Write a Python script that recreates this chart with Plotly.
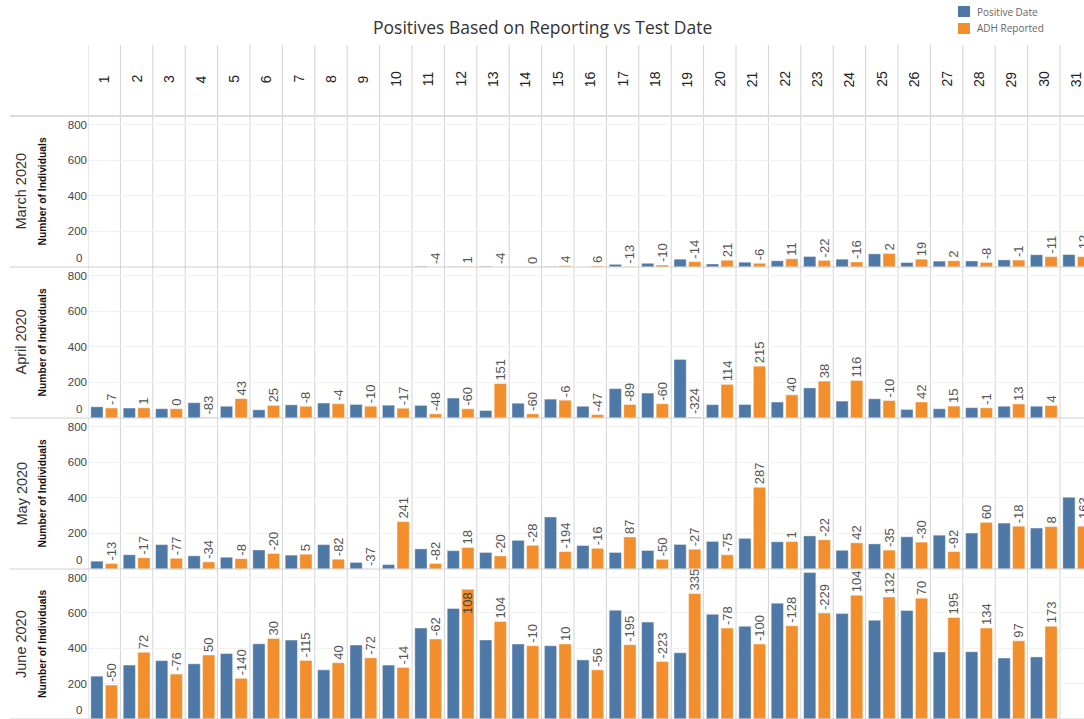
import plotly.graph_objects as go

# ---------------- data ----------------
days = list(range(1, 32))
month_names = ["March 2020", "April 2020", "May 2020", "June 2020"]

pos_mar = [None, None, None, None, None, None, None, None, None, None,
           4, 2, 4, 0, 3, 0, 15, 21, 44, 17, 27, 35, 59, 44, 74, 25, 33, 34, 40, 69, 70]
adh_mar = [None, None, None, None, None, None, None, None, None, None,
           0, 3, 0, 0, 7, 6, 2, 11, 30, 38, 21, 46, 37, 28, 76, 44, 35, 26, 39, 58, 58]

pos_apr = [63, 56, 52, 86, 66, 46, 74, 84, 76, 72, 71, 112, 42, 83, 106, 66, 165, 140, 329, 75,
           76, 90, 169, 95, 108, 48, 52, 58, 66, 66, None]
adh_apr = [56, 57, 52, 3, 109, 71, 66, 80, 66, 55, 23, 52, 193, 23, 100, 19, 76, 80, 5, 189,
           291, 130, 207, 211, 98, 90, 67, 57, 79, 70, None]

pos_may = [44, 80, 137, 74, 66, 107, 78, 137, 37, 25, 113, 103, 93, 161, 292, 132, 93, 104, 138, 155,
           172, 153, 186, 105, 141, 181, 190, 202, 258, 230, 403]
adh_may = [31, 63, 60, 40, 58, 87, 83, 55, 0, 266, 31, 121, 73, 133, 98, 116, 180, 54, 111, 80,
           459, 154, 164, 147, 106, 151, 98, 262, 240, 238, 240]

pos_jun = [242, 305, 330, 312, 370, 425, 446, 278, 418, 305, 514, 625, 447, 424, 414, 334, 615, 548, 374, 592,
           524, 655, 828, 596, 558, 613, 379, 380, 345, 351, None]
adh_jun = [192, 377, 254, 362, 230, 455, 331, 318, 346, 291, 452, 733, 551, 414, 424, 278, 420, 325, 709, 514,
           424, 527, 599, 700, 690, 683, 574, 514, 442, 524, None]

positive_series = [pos_mar, pos_apr, pos_may, pos_jun]
adh_series = [adh_mar, adh_apr, adh_may, adh_jun]
y_ticks = [200, 400, 600, 800]

# ---------------- style / layout ----------------
W, H = 1084, 719
BLUE = "#4e79a7"
ORANGE = "#f28e2b"
X0 = 88
ROWS_PX = [(116, 267), (267, 418), (418, 569), (569, 719)]
YMAX = 848
XRANGE = [0.5, 31.24]
TXT_FONT = "Liberation Sans, Arial, sans-serif"
TITLE_FONT = "Open Sans, Lato, sans-serif"


def day_to_paper(d):
    # map a day position on the shared x scale to paper coordinates
    return X0 / W + (d - XRANGE[0]) / (XRANGE[1] - XRANGE[0]) * (1 - X0 / W)


fig = go.Figure()
shapes = []
annotations = []

for i, (top, bot) in enumerate(ROWS_PX):
    ax = "" if i == 0 else str(i + 1)
    xname, yname = "x" + ax, "y" + ax
    fig.update_layout(**{
        "xaxis" + ax: dict(domain=[X0 / W, 1], range=XRANGE, anchor=yname,
                           showticklabels=False, showgrid=False, zeroline=False,
                           ticks="", showline=False, fixedrange=True),
        "yaxis" + ax: dict(domain=[1 - bot / H, 1 - top / H], range=[0, YMAX], anchor=xname,
                           tickvals=y_ticks, showgrid=True, gridcolor="#f1f1f1", gridwidth=1,
                           zeroline=False, ticks="", showline=False,
                           tickfont=dict(size=11.5, color="#444", family=TXT_FONT),
                           fixedrange=True),
    })
    pos = positive_series[i]
    adh = adh_series[i]
    labels = []
    tpos = []
    for p, a in zip(pos, adh):
        if p is None or a is None:
            labels.append("")
            tpos.append("none")
        else:
            labels.append(str(a - p))
            tpos.append("inside" if a > YMAX - 120 else "outside")
    fig.add_trace(go.Bar(x=days, y=pos, xaxis=xname, yaxis=yname, name="Positive Date",
                         marker=dict(color=BLUE, line=dict(width=0.6, color="rgba(255,255,255,0.7)")),
                         showlegend=False, hoverinfo="x+y"))
    fig.add_trace(go.Bar(x=days, y=adh, xaxis=xname, yaxis=yname, name="ADH Reported",
                         marker=dict(color=ORANGE, line=dict(width=0.6, color="rgba(255,255,255,0.7)")),
                         text=labels, textposition=tpos, textangle=-90,
                         insidetextanchor="end", constraintext="none",
                         textfont=dict(size=13, color="#555", family=TXT_FONT),
                         insidetextfont=dict(size=13, color="#444", family=TXT_FONT),
                         outsidetextfont=dict(size=13, color="#555", family=TXT_FONT),
                         showlegend=False, hoverinfo="x+y"))

    yc = 1 - (top + bot) / 2 / H
    annotations.append(dict(text=month_names[i], xref="paper", yref="paper", x=21 / W, y=yc,
                            xanchor="center", yanchor="middle", textangle=-90, showarrow=False,
                            font=dict(size=14.5, color="#333", family=TXT_FONT)))
    annotations.append(dict(text="Number of Individuals", xref="paper", yref="paper", x=42 / W, y=yc,
                            xanchor="center", yanchor="middle", textangle=-90, showarrow=False,
                            font=dict(size=10.3, color="#111", family=TXT_FONT, weight="bold")))
    annotations.append(dict(text="0", xref="paper", yref=yname, x=(X0 - 4) / W, y=0, yshift=9,
                            xanchor="right", yanchor="middle", showarrow=False,
                            font=dict(size=11.5, color="#444", family=TXT_FONT)))
    # row separator
    shapes.append(dict(type="line", xref="paper", yref="paper", x0=10 / W, x1=1,
                       y0=1 - bot / H, y1=1 - bot / H, line=dict(color="#cfcfcf", width=1)))

# header bottom line
shapes.append(dict(type="line", xref="paper", yref="paper", x0=10 / W, x1=1,
                   y0=1 - 116 / H, y1=1 - 116 / H, line=dict(color="#dcdcdc", width=2)))
# column separators
for k in range(0, 32):
    shapes.append(dict(type="line", xref="x", yref="paper", x0=k + 0.5, x1=k + 0.5,
                       y0=0, y1=1 - 45 / H, line=dict(color="#d4d4d4", width=1), layer="below"))

# day header
for d in days:
    annotations.append(dict(text=str(d), xref="paper", yref="paper", x=day_to_paper(d), y=1 - 79 / H,
                            xanchor="center", yanchor="middle", textangle=-90, showarrow=False,
                            font=dict(size=14, color="#222", family=TXT_FONT)))

# legend (manual)
legend_items = [("Positive Date", BLUE, 6, 17), ("ADH Reported", ORANGE, 23, 34)]
for name, col, y0, y1 in legend_items:
    shapes.append(dict(type="rect", xref="paper", yref="paper", x0=958 / W, x1=970 / W,
                       y0=1 - y1 / H, y1=1 - y0 / H, fillcolor=col, line=dict(width=0)))
    annotations.append(dict(text=name, xref="paper", yref="paper", x=975 / W, y=1 - (y0 + y1) / 2 / H,
                            xanchor="left", yanchor="middle", showarrow=False,
                            font=dict(size=10, color="#666", family=TITLE_FONT)))

annotations.append(dict(text="Positives Based on Reporting vs Test Date", xref="paper", yref="paper",
                        x=0.5, y=1 - 27 / H, xanchor="center", yanchor="middle", showarrow=False,
                        font=dict(size=17.5, color="#333", family=TITLE_FONT)))

fig.update_layout(width=W, height=H, margin=dict(l=0, r=0, t=0, b=0),
                  paper_bgcolor="white", plot_bgcolor="rgba(0,0,0,0)",
                  barmode="group", bargap=0.1, bargroupgap=0.16,
                  shapes=shapes, annotations=annotations, showlegend=False)

fig.write_html("out.html", include_plotlyjs=True, config={"displayModeBar": False},
               post_script="document.body.style.margin='0px';document.body.style.overflow='hidden';")
